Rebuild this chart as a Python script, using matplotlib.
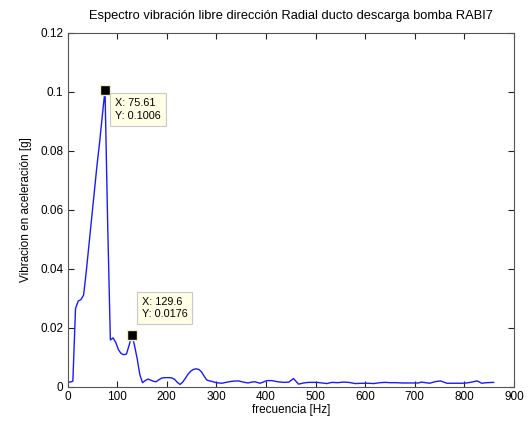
import matplotlib
matplotlib.use("Agg")
import matplotlib.pyplot as plt

plt.rcParams['font.family'] = ['Liberation Sans', 'DejaVu Sans']

freq = [0, 5.4, 10.8, 16.2, 21.6, 27.0, 32.4, 37.8, 43.2, 48.6, 54.0, 59.4, 64.8, 70.2, 75.61,
        81.0, 86.4, 91.8, 97.2, 102.6, 108.0, 113.4, 118.8, 124.2, 129.6, 135.0, 140.4, 145.8,
        151.2, 156.6, 162.0, 167.4, 172.8, 178.2, 183.6, 189.0, 194.4, 199.8, 205.2, 210.6,
        216.0, 221.4, 226.8, 232.2, 237.6, 243.0, 248.4, 253.8, 259.2, 264.6, 270.0, 275.4,
        280.8, 286.2, 291.6, 300, 311, 322, 333, 344.6, 354, 364, 371, 378, 388, 396, 402,
        412, 424, 436, 446, 455.6, 465.7, 476, 486, 503, 513, 523, 533, 545, 556, 566.6, 580,
        595, 606, 617, 630, 640.6, 650, 661, 675, 690, 708, 713, 730, 740, 751.6, 765, 780,
        795, 805, 815, 825.7, 835, 845, 859]
amp = [0.0015, 0.0015, 0.0018, 0.0265, 0.029, 0.0295, 0.031, 0.039, 0.048, 0.057, 0.066,
       0.075, 0.083, 0.092, 0.1006,
       0.055, 0.0158, 0.0165, 0.0150, 0.0125, 0.0112, 0.0108, 0.0110, 0.0140, 0.0176, 0.0140,
       0.0095, 0.0040, 0.0013, 0.0020, 0.0025, 0.0022, 0.0018, 0.0016, 0.0022, 0.0028, 0.0030,
       0.0030, 0.0030, 0.0029, 0.0024, 0.0014, 0.0007, 0.0015, 0.0028, 0.0042, 0.0052, 0.0058,
       0.0060, 0.0058, 0.0050, 0.0035, 0.0022, 0.0019, 0.0017, 0.0013, 0.0011, 0.0015, 0.0018,
       0.0019, 0.0015, 0.0012, 0.0015, 0.0016, 0.0011, 0.0016, 0.0020, 0.0020, 0.0016, 0.0014,
       0.0015, 0.0027, 0.0008, 0.0012, 0.0014, 0.0014, 0.0012, 0.0010, 0.0014, 0.0013, 0.0015,
       0.0014, 0.0010, 0.0011, 0.0011, 0.0010, 0.0013, 0.0014, 0.0013, 0.0013, 0.0012, 0.0012,
       0.0012, 0.0015, 0.0011, 0.0016, 0.0019, 0.0011, 0.0011, 0.0011, 0.0012, 0.0015, 0.0019,
       0.0011, 0.0013, 0.0014]

tips_x = [75.61, 129.6]
tips_y = [0.1006, 0.0176]
tips_label = ["X: 75.61\nY: 0.1006", "X: 129.6\nY: 0.0176"]

xticks = [0, 100, 200, 300, 400, 500, 600, 700, 800, 900]
yticks = [0, 0.02, 0.04, 0.06, 0.08, 0.1, 0.12]
ytick_labels = ["0", "0.02", "0.04", "0.06", "0.08", "0.1", "0.12"]

fig = plt.figure(figsize=(5.28, 4.26), dpi=100, facecolor='white')
ax = fig.add_axes([67.5/528, 39.5/426, (514-67.5)/528, (386.5-33)/426])

ax.plot(freq, amp, color='#1a1aff', lw=1.0)

ax.set_xlim(0, 900)
ax.set_ylim(0, 0.12)
ax.set_xticks(xticks)
ax.set_xticklabels([str(t) for t in xticks])
ax.set_yticks(yticks)
ax.set_yticklabels(ytick_labels)
ax.tick_params(direction='in', top=True, right=True, labelsize=8.5, length=4, width=0.8,
               colors='#222222', labelcolor='black', pad=3)
for s in ax.spines.values():
    s.set_color('#555555')
    s.set_linewidth(0.8)

ax.set_title("Espectro vibración libre dirección Radial ducto descarga bomba RABI7",
             fontsize=9.3, pad=10)
ax.set_xlabel("frecuencia [Hz]", fontsize=8.5, labelpad=1)
ax.set_ylabel("Vibracion en aceleración [g]", fontsize=8.5, labelpad=6)

offsets = [(10, -8), (10, 38)]
for x, y, lab, off in zip(tips_x, tips_y, tips_label, offsets):
    ax.plot([x], [y], marker='s', ms=7.5, mfc='black', mec='#f0f0c0', mew=1.0, zorder=5,
            clip_on=False)
    ax.annotate(lab, xy=(x, y), xytext=off, textcoords='offset pixels',
                ha='left', va='top', fontsize=7.8, linespacing=1.35,
                bbox=dict(boxstyle='square,pad=0.45', fc='#ffffe6', ec='#c8c8c8', lw=0.8),
                zorder=6)

fig.savefig("out.png", dpi=100, facecolor='white')
